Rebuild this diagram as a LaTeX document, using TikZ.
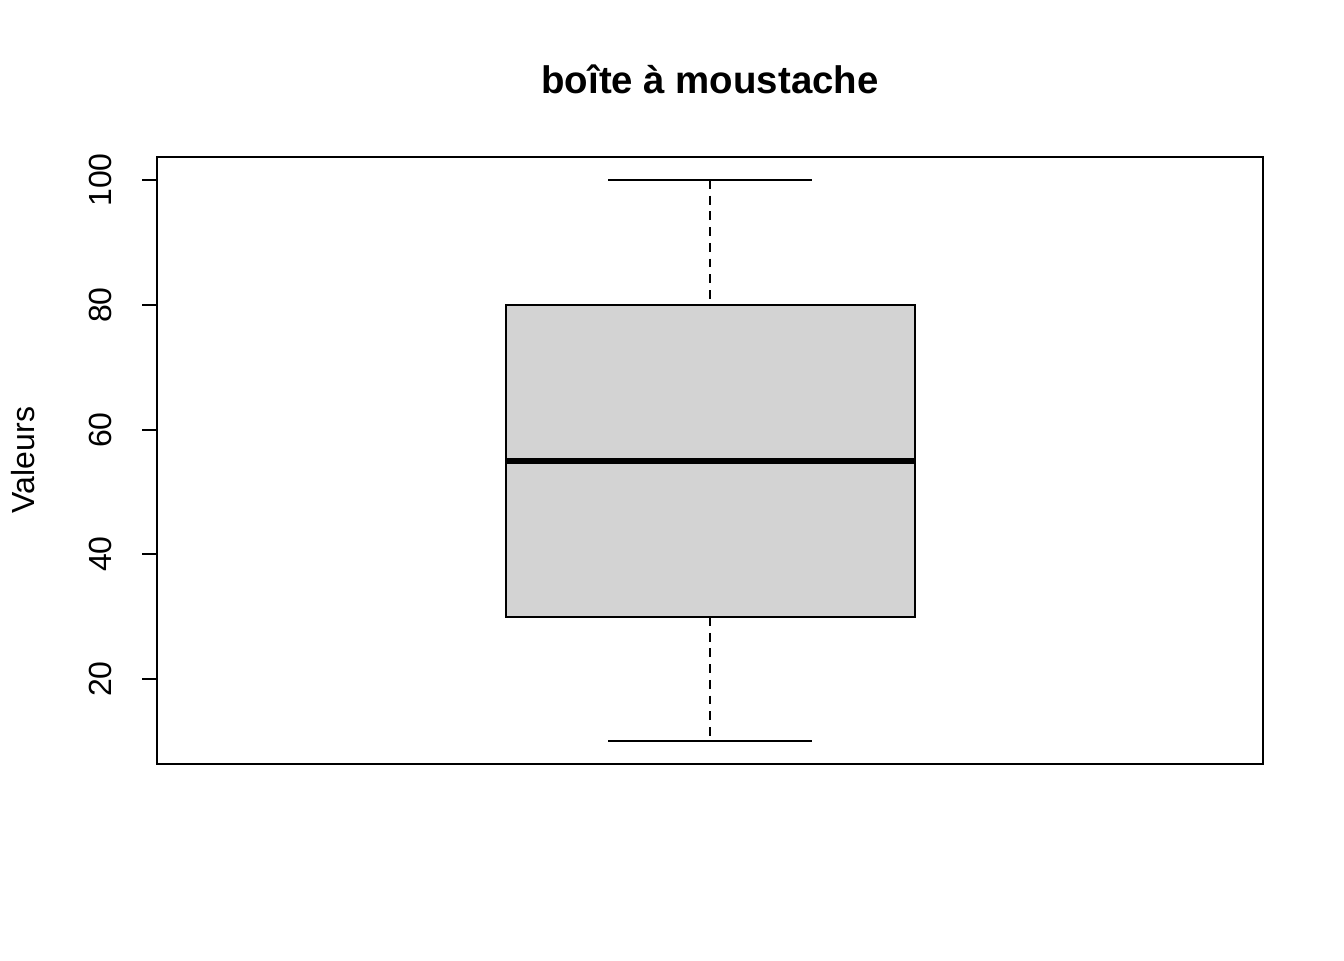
\documentclass[tikz,border=0pt]{standalone}
\usepackage{fontspec}
\setmainfont{Liberation Sans}
\definecolor{boxfill}{RGB}{211,211,211}
\begin{document}
\begin{tikzpicture}[x=0.375pt,y=-0.375pt,
  thin line/.style={line width=0.75pt, line cap=butt},
  ticklab/.style={rotate=90, anchor=base, inner sep=0pt, font=\fontsize{12}{14}\selectfont},
  whisk/.style={line width=0.75pt, dash pattern=on 3.3pt off 2.6pt}]
\useasboundingbox (0,0) rectangle (1344,960);
\fill[white] (0,0) rectangle (1344,960);
% title
\node[anchor=base, inner sep=0pt, font=\fontsize{14.4}{17}\selectfont\bfseries] (title) at (710,93) {boîte à moustache};
% plot frame
\draw[thin line] (157,157) rectangle (1263,764);
% y axis
\draw[thin line] (157,180) -- (157,679);
\foreach \v/\y in {20/679,40/554,60/430,80/305,100/180}{
  \coordinate (t\v) at (157,\y);
  \draw[thin line] (t\v) -- ++(-15,0);
  \node[ticklab] (l\v) at (111,\y) {\v};
}
\node[ticklab] (ylab) at (34,460) {Valeurs};
% whiskers
\coordinate (wtop) at (710,180);
\coordinate (wbot) at (710,741);
\coordinate (btop) at (710,305);
\coordinate (bbot) at (710,617);
\draw[whisk] (wtop) -- (btop);
\draw[whisk] (bbot) -- (wbot);
\draw[thin line] (608,180) -- (812,180);
\draw[thin line] (608,741) -- (812,741);
% box
\draw[thin line, fill=boxfill] (506,305) rectangle (915,617);
\draw[line width=2.25pt] (506,461) -- (915,461);
\end{tikzpicture}
\end{document}
